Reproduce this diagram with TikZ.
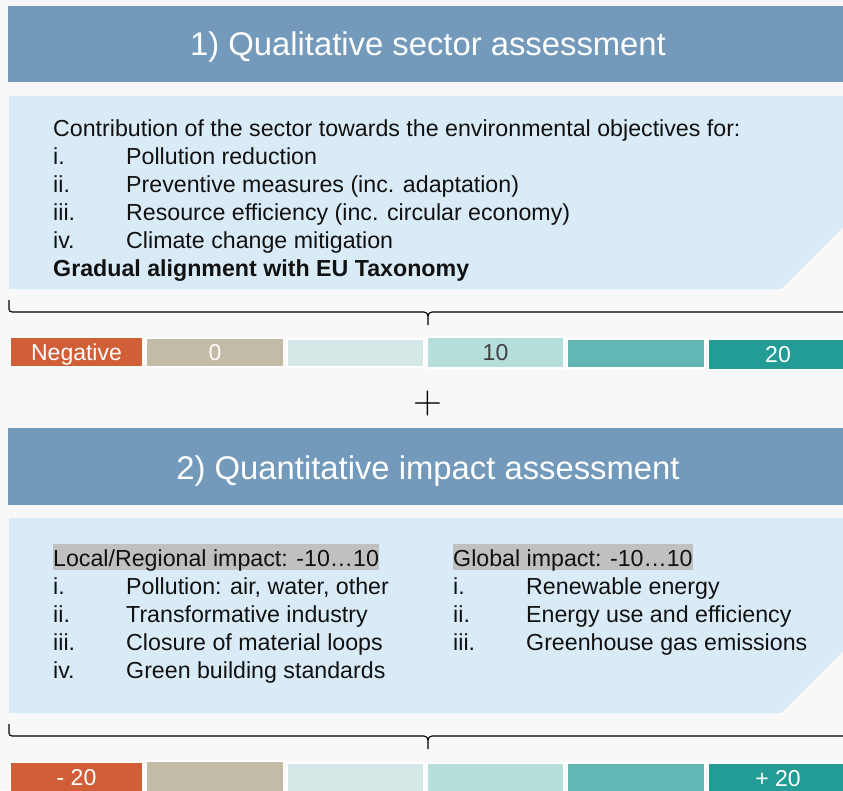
\documentclass[tikz,border=0pt]{standalone}
\usepackage{fontspec}
\setmainfont{Liberation Sans}
\newfontfamily\plusfont{Latin Modern Roman}
\definecolor{bgc}{HTML}{F8F8F8}
\definecolor{headc}{HTML}{7399BB}
\definecolor{boxc}{HTML}{DAEBF8}
\definecolor{negc}{HTML}{D05F37}
\definecolor{tanc}{HTML}{C2BBA6}
\definecolor{palec}{HTML}{D5E8E8}
\definecolor{mintc}{HTML}{B5DDDA}
\definecolor{tealc}{HTML}{62B6B4}
\definecolor{dtealc}{HTML}{249C96}
\definecolor{hlc}{HTML}{C0C0C0}
\definecolor{txtc}{HTML}{111111}
\begin{document}
\begin{tikzpicture}[x=1pt,y=-1pt,
  header/.style={fill=headc, inner sep=0pt, minimum width=835pt},
  title/.style={anchor=base, inner sep=0pt, text=white, font=\fontsize{32.8}{36}\selectfont},
  cell/.style={draw=white, line width=2pt, inner sep=0pt, text height=16.5pt, text depth=0pt, font=\fontsize{23}{26}\selectfont},
  body/.style={anchor=base west, inner sep=0pt, text=txtc, font=\fontsize{23.2}{26}\selectfont},
  hl/.style={body, fill=hlc, text height=22pt, text depth=4pt},
  brace/.style={draw=black, line width=1.1pt}
]
\useasboundingbox (0,0) rectangle (843,790);
\clip (0,0) rectangle (843,790);
\fill[bgc] (0,0) rectangle (843,790);

% ---------- Section 1 ----------
\node[header, minimum height=76pt] (h1) at (425.5,44) {};
\node[title] (h1t) at (428,55.5) {1) Qualitative sector assessment};
\fill[boxc] (9,96) -- (843,96) -- (843,227) -- (781,289) -- (9,289) -- cycle;
\node[body] (t1) at (53,136) {Contribution of the sector towards the environmental objectives for:};
\node[body] (r1a) at (53,164) {i.};   \node[body] (s1a) at (126,164) {Pollution reduction};
\node[body] (r1b) at (53,192) {ii.};  \node[body] (s1b) at (126,192) {Preventive measures (inc. adaptation)};
\node[body] (r1c) at (53,220) {iii.}; \node[body] (s1c) at (126,220) {Resource efficiency (inc. circular economy)};
\node[body] (r1d) at (53,248) {iv.};  \node[body] (s1d) at (126,248) {Climate change mitigation};
\node[body, font=\fontsize{23.2}{26}\selectfont\bfseries] (g1) at (53,276) {Gradual alignment with EU Taxonomy};

\coordinate (b1l) at (9,300);
\coordinate (b1m) at (428,325);
\coordinate (b1r) at (843,312);
\draw[brace] (b1l) -- (9,309) to[out=-90,in=180] (12,312) -- (424,312) to[out=0,in=90] (428,316) -- (b1m);
\draw[brace] (428,316) to[out=90,in=180] (432,312) -- (b1r);

\node[cell, fill=negc, text=white, minimum width=133pt, minimum height=30pt] (a1) at (76.5,352) {Negative};
\node[cell, fill=tanc, text=white!95!tanc, minimum width=138pt, minimum height=29pt] (a2) at (215,352.5) {0};
\node[cell, fill=palec, minimum width=137pt, minimum height=28pt] (a3) at (355.5,353) {};
\node[cell, fill=mintc, text=black!75, minimum width=137pt, minimum height=31pt] (a4) at (495.5,352.5) {10};
\node[cell, fill=tealc, minimum width=138pt, minimum height=29pt] (a5) at (636,353.5) {};
\node[cell, fill=dtealc, text=white, minimum width=140pt, minimum height=31pt] (a6) at (778,354.5) {20};

\node[anchor=base, inner sep=0pt, font=\plusfont\fontsize{40}{40}\selectfont] (plus) at (428,413) {+};

% ---------- Section 2 ----------
\node[header, minimum height=77pt] (h2) at (425.5,466.5) {};
\node[title] (h2t) at (428,479) {2) Quantitative impact assessment};
\fill[boxc] (9,518) -- (843,518) -- (843,651) -- (781,713) -- (9,713) -- cycle;
\node[hl] (lh) at (53,566) {Local/Regional impact: -10\ldots10};
\node[body] (r2a) at (53,594) {i.};   \node[body] (s2a) at (126,594) {Pollution: air, water, other};
\node[body] (r2b) at (53,622) {ii.};  \node[body] (s2b) at (126,622) {Transformative industry};
\node[body] (r2c) at (53,650) {iii.}; \node[body] (s2c) at (126,650) {Closure of material loops};
\node[body] (r2d) at (53,678) {iv.};  \node[body] (s2d) at (126,678) {Green building standards};
\node[hl] (gh) at (453,566) {Global impact: -10\ldots10};
\node[body] (q2a) at (453,594) {i.};   \node[body] (p2a) at (526,594) {Renewable energy};
\node[body] (q2b) at (453,622) {ii.};  \node[body] (p2b) at (526,622) {Energy use and efficiency};
\node[body] (q2c) at (453,650) {iii.}; \node[body] (p2c) at (526,650) {Greenhouse gas emissions};

\coordinate (b2l) at (9,724);
\coordinate (b2m) at (428,749);
\coordinate (b2r) at (843,736);
\draw[brace] (b2l) -- (9,733) to[out=-90,in=180] (12,736) -- (424,736) to[out=0,in=90] (428,740) -- (b2m);
\draw[brace] (428,740) to[out=90,in=180] (432,736) -- (b2r);

\node[cell, fill=negc, text=white, minimum width=133pt, minimum height=30pt] (c1) at (76.5,777) {- 20};
\node[cell, fill=tanc, minimum width=138pt, minimum height=32pt] (c2) at (215,777) {};
\node[cell, fill=palec, minimum width=137pt, minimum height=30pt] (c3) at (355.5,778) {};
\node[cell, fill=mintc, minimum width=137pt, minimum height=30pt] (c4) at (495.5,778) {};
\node[cell, fill=tealc, minimum width=138pt, minimum height=30pt] (c5) at (636,778) {};
\node[cell, fill=dtealc, text=white, minimum width=140pt, minimum height=30pt] (c6) at (778,778) {+ 20};
\end{tikzpicture}
\end{document}
